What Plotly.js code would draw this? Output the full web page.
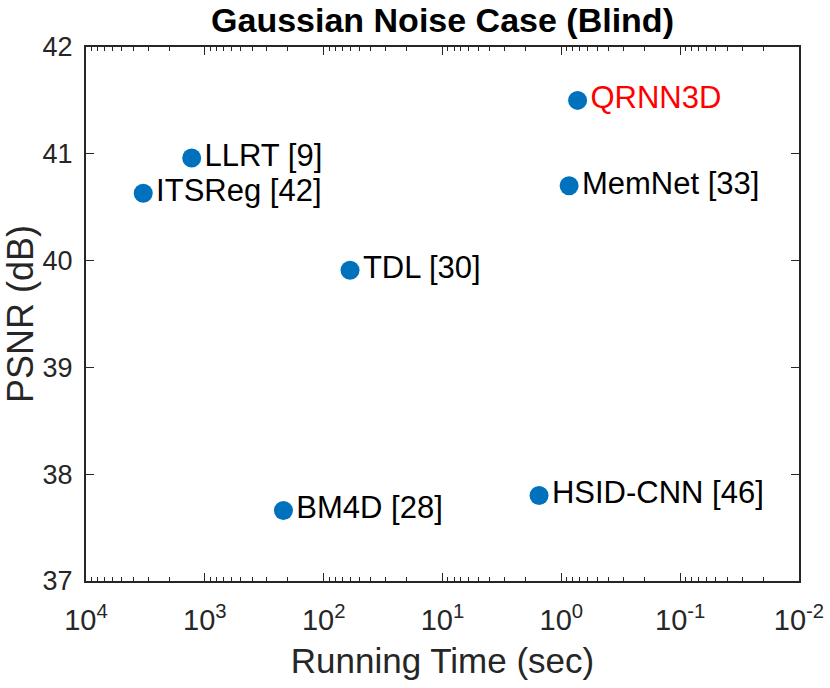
<!DOCTYPE html>
<html>
<head>
<meta charset="utf-8">
<script src="https://cdn.plot.ly/plotly-3.0.1.min.js"></script>
<style>html,body{margin:0;padding:0;background:#fff;}#chart{width:830px;height:688px;}</style>
</head>
<body>
<div id="chart"></div>
<script>
const methods = ["QRNN3D", "LLRT [9]", "ITSReg [42]", "TDL [30]", "MemNet [33]", "BM4D [28]", "HSID-CNN [46]"];
const runningTime = [0.73, 1290, 3300, 60, 0.86, 218, 1.54];
const psnr = [41.50, 40.96, 40.63, 39.91, 40.70, 37.66, 37.80];
const labelColors = ["#ff0000", "#000000", "#000000", "#000000", "#000000", "#000000", "#000000"];
const xTickVals = [1e4, 1e3, 1e2, 1e1, 1e0, 1e-1, 1e-2];
const xTickText = ["10<sup>4</sup>", "10<sup>3</sup>", "10<sup>2</sup>", "10<sup>1</sup>", "10<sup>0</sup>", "10<sup>-1</sup>", "10<sup>-2</sup>"];
const yTickVals = [37, 38, 39, 40, 41, 42];

const axisColor = "#262626";
const font = "Liberation Sans, Arial, Helvetica, sans-serif";

const trace = {
  type: "scatter",
  mode: "markers+text",
  x: runningTime,
  y: psnr,
  text: methods,
  textposition: "middle right",
  textfont: {family: font, size: 31, color: labelColors},
  marker: {size: 19, color: "#0072BD"},
  cliponaxis: false,
  hoverinfo: "skip"
};

const layout = {
  width: 830,
  height: 688,
  margin: {l: 86, r: 31, t: 47, b: 107},
  paper_bgcolor: "#ffffff",
  plot_bgcolor: "#ffffff",
  showlegend: false,
  font: {family: font, color: axisColor},
  title: {
    text: "<b>Gaussian Noise Case (Blind)</b>",
    font: {family: font, size: 34, color: "#000000"},
    x: 0.5, xanchor: "center", xref: "paper",
    y: 0.971, yanchor: "middle", yref: "container"
  },
  xaxis: {
    type: "log",
    range: [4, -2],
    autorange: false,
    tickmode: "array",
    tickvals: xTickVals,
    ticktext: xTickText,
    ticks: "inside",
    ticklen: 8,
    tickwidth: 1,
    tickcolor: axisColor,
    minor: {dtick: "D1", ticks: "inside", ticklen: 4, tickwidth: 1, tickcolor: axisColor, showgrid: false},
    showline: true,
    linecolor: axisColor,
    linewidth: 2,
    mirror: "ticks",
    showgrid: false,
    zeroline: false,
    ticklabelstandoff: 12,
    tickfont: {family: font, size: 29, color: axisColor},
    title: {text: "Running Time (sec)", font: {family: font, size: 35, color: axisColor}, standoff: 14}
  },
  yaxis: {
    range: [37, 42],
    autorange: false,
    tickmode: "array",
    tickvals: yTickVals,
    ticks: "inside",
    ticklen: 8,
    tickwidth: 1,
    tickcolor: axisColor,
    showline: true,
    linecolor: axisColor,
    linewidth: 2,
    mirror: "ticks",
    showgrid: false,
    zeroline: false,
    ticklabelstandoff: 6,
    tickfont: {family: font, size: 27, color: axisColor},
    title: {text: "PSNR (dB)", font: {family: font, size: 36, color: axisColor}, standoff: 8}
  }
};

Plotly.newPlot("chart", [trace], layout, {displayModeBar: false, staticPlot: true});
</script>
</body>
</html>
